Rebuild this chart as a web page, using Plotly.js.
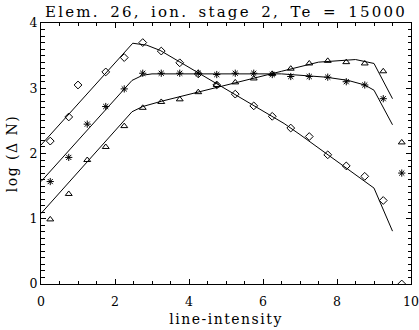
<!DOCTYPE html>
<html>
<head>
<meta charset="utf-8">
<script src="https://cdn.plot.ly/plotly-3.0.1.min.js"></script>
<style>
  html, body { margin: 0; padding: 0; background: #fff; }
  #chart { width: 419px; height: 330px; }
  .gtitle { letter-spacing: 2.2px; word-spacing: 3.5px; }
  .xtitle, .ytitle { letter-spacing: 1.5px; }
</style>
</head>
<body>
<div id="chart"></div>
<script>
// Observed points
const diamondX = [0.25, 0.75, 1.0, 1.75, 2.25, 2.75, 3.25, 3.75, 4.25, 4.75, 5.25, 5.75, 6.25, 6.75, 7.25, 7.75, 8.25, 8.75, 9.25, 9.75];
const diamondY = [2.19, 2.56, 3.05, 3.25, 3.47, 3.70, 3.57, 3.39, 3.22, 3.05, 2.91, 2.73, 2.57, 2.39, 2.26, 1.98, 1.81, 1.65, 1.28, 0.0];

const starX = [0.25, 0.75, 1.25, 1.75, 2.25, 2.75, 3.25, 3.75, 4.25, 4.75, 5.25, 5.75, 6.25, 6.75, 7.25, 7.75, 8.25, 8.75, 9.25, 9.75];
const starY = [1.57, 1.94, 2.45, 2.72, 2.99, 3.23, 3.23, 3.23, 3.23, 3.21, 3.23, 3.23, 3.21, 3.18, 3.18, 3.17, 3.10, 3.05, 2.84, 1.70];

const triX = [0.25, 0.75, 1.25, 1.75, 2.25, 2.75, 3.25, 3.75, 4.25, 4.75, 5.25, 5.75, 6.25, 6.75, 7.25, 7.75, 8.25, 8.75, 9.25, 9.75];
const triY = [0.99, 1.38, 1.90, 2.10, 2.42, 2.70, 2.79, 2.83, 2.94, 3.05, 3.09, 3.15, 3.22, 3.30, 3.38, 3.42, 3.40, 3.38, 3.26, 2.17];

// Model curves
const diamondLineX = [0, 2.48, 2.86, 3.22, 4.0, 5.0, 6.0, 6.57, 7.0, 8.0, 9.0, 9.5];
const diamondLineY = [2.13, 3.69, 3.66, 3.58, 3.32, 2.99, 2.66, 2.46, 2.29, 1.88, 1.47, 0.81];

const starLineX = [0, 2.46, 2.75, 3.0, 6.5, 7.7, 8.3, 8.75, 9.0, 9.5];
const starLineY = [1.57, 3.12, 3.20, 3.22, 3.22, 3.17, 3.12, 3.05, 2.97, 2.44];

const triLineX = [0, 2.46, 2.75, 3.25, 6.5, 7.5, 8.5, 9.0, 9.5];
const triLineY = [1.08, 2.64, 2.72, 2.80, 3.26, 3.40, 3.44, 3.38, 2.84];

const titleText = 'Elem. 26, ion. stage 2, Te = 15000';
const xTitle = 'line-intensity';
const yTitle = 'log (Δ N)';

const FONT = 'DejaVu Serif';
const mk = (sym) => ({ symbol: sym, size: 6, color: '#000', line: { color: '#000', width: 1 } });
const ln = { color: '#000', width: 1 };

const data = [
  { x: diamondLineX, y: diamondLineY, mode: 'lines', line: ln, hoverinfo: 'skip' },
  { x: starLineX, y: starLineY, mode: 'lines', line: ln, hoverinfo: 'skip' },
  { x: triLineX, y: triLineY, mode: 'lines', line: ln, hoverinfo: 'skip' },
  { x: diamondX, y: diamondY, mode: 'markers', marker: mk('diamond-open') },
  { x: starX, y: starY, mode: 'markers', marker: mk('asterisk-open') },
  { x: triX, y: triY, mode: 'markers', marker: mk('triangle-up-open') }
];

const axisCommon = {
  showgrid: false, zeroline: false, showline: true, linecolor: '#000', linewidth: 1,
  mirror: 'allticks', ticks: 'inside', tickcolor: '#000', tickwidth: 1, ticklen: 5,
  tickfont: { family: FONT, size: 12.5, color: '#000' }
};

const layout = {
  width: 419, height: 330,
  margin: { l: 41, r: 8, t: 23, b: 46, pad: 0 },
  paper_bgcolor: '#fff', plot_bgcolor: '#fff',
  showlegend: false,
  title: { text: titleText, font: { family: FONT, size: 15, color: '#000' }, x: 0.5, xref: 'paper', xanchor: 'center', y: 0.964, yref: 'container', yanchor: 'middle' },
  xaxis: Object.assign({}, axisCommon, {
    range: [0, 10], dtick: 2, tick0: 0, ticklabelstandoff: 6,
    minor: { dtick: 0.5, ticks: 'inside', ticklen: 3, tickcolor: '#000', tickwidth: 1 },
    title: { text: xTitle, font: { family: FONT, size: 14, color: '#000' }, standoff: 6 }
  }),
  yaxis: Object.assign({}, axisCommon, {
    range: [0, 4], dtick: 1, tick0: 0,
    minor: { dtick: 0.1, ticks: 'inside', ticklen: 3.5, tickcolor: '#000', tickwidth: 1 },
    title: { text: yTitle, font: { family: FONT, size: 14, color: '#000' }, standoff: 8 }
  })
};

Plotly.newPlot('chart', data, layout, { staticPlot: true, displayModeBar: false });
</script>
</body>
</html>
